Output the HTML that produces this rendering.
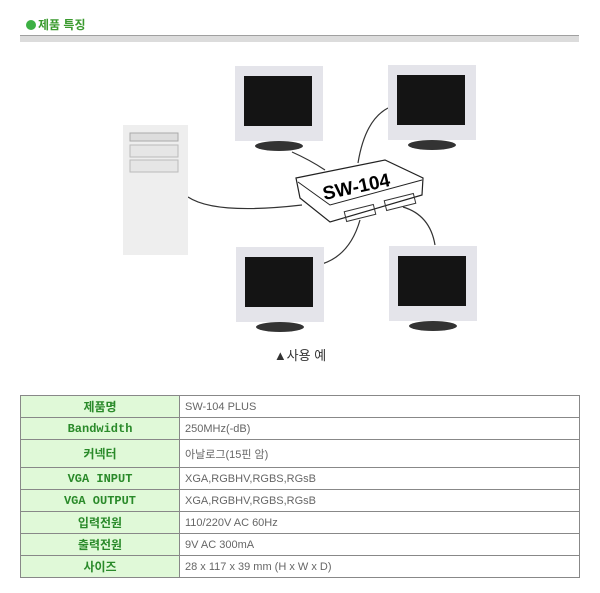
<!DOCTYPE html>
<html><head><meta charset="utf-8"><style>
body{margin:0;width:600px;height:593px;background:#fff;font-family:"Liberation Sans","Noto Sans CJK KR",sans-serif;position:relative;overflow:hidden}
.hd{position:absolute;left:26px;top:16px;font-size:12px;color:#3a9a2e;font-weight:bold}
.dot{display:inline-block;width:10px;height:10px;border-radius:50%;background:#3cb043;margin-right:2px;vertical-align:-1px}
.line{position:absolute;left:20px;top:35px;width:559px;height:1px;background:#a0a0a0}
.band{position:absolute;left:20px;top:36px;width:559px;height:6px;background:#dcdcdc}
table{position:absolute;left:20px;top:395px;width:560px;border-collapse:collapse}
td{border:1px solid #888;height:21px;padding:0;font-size:11px}
td.k{width:158px;background:#e0f9d8;color:#2a8a2a;font-weight:bold;text-align:center;font-size:12px;font-family:"Liberation Mono","Noto Sans CJK KR",monospace}
td.v{color:#666;padding-left:5px}
</style></head><body>
<div class="hd"><span class="dot"></span>제품 특징</div>
<div class="line"></div><div class="band"></div>
<svg style="position:absolute;left:0;top:0" width="600" height="380">
<g fill="none" stroke="#333" stroke-width="1.2">
<path d="M188 197 Q215 215 302 205"/>
<path d="M292 152 Q310 160 325 170"/>
<path d="M388 108 Q365 120 358 163"/>
<path d="M322 264 Q350 255 360 220"/>
<path d="M403 207 Q430 215 435 245"/>
</g>
<rect x="123" y="125" width="65" height="130" fill="#eeeeee"/>
<rect x="130" y="133" width="48" height="8" fill="#ddd" stroke="#aaa"/>
<rect x="130" y="145" width="48" height="12" fill="#e6e6e6" stroke="#bbb"/>
<rect x="130" y="160" width="48" height="12" fill="#e6e6e6" stroke="#bbb"/>
<g id="m">
<rect x="235" y="66" width="88" height="75" fill="#e4e4ea"/>
<rect x="244" y="76" width="68" height="50" fill="#141414"/>
<ellipse cx="279" cy="146" rx="24" ry="5" fill="#333"/>
</g>
<use href="#m" x="153" y="-1"/>
<use href="#m" x="1" y="181"/>
<use href="#m" x="154" y="180"/>
<polygon points="296,178 385,160 423,178 422,195 330,222 300,198" fill="#fff" stroke="#222" stroke-width="1.2"/>
<polyline points="298,182 330,205 422,180" fill="none" stroke="#222"/>
<rect x="345" y="208" width="30" height="10" fill="none" stroke="#333" transform="rotate(-14 360 213)"/>
<rect x="385" y="197" width="30" height="10" fill="none" stroke="#333" transform="rotate(-14 400 202)"/>
<text x="357" y="193" font-family="Liberation Sans" font-weight="bold" font-size="19" text-anchor="middle" transform="rotate(-12 357 190)" fill="#000">SW-104</text>
<text x="300" y="360" font-size="13" text-anchor="middle" fill="#333" font-family="Liberation Sans,Noto Sans CJK KR,sans-serif">▲사용 예</text>
</svg>
<table>
<tr><td class="k">제품명</td><td class="v">SW-104 PLUS</td></tr>
<tr><td class="k">Bandwidth</td><td class="v">250MHz(-dB)</td></tr>
<tr><td class="k" style="height:27px">커넥터</td><td class="v">아날로그(15핀 암)</td></tr>
<tr><td class="k">VGA INPUT</td><td class="v">XGA,RGBHV,RGBS,RGsB</td></tr>
<tr><td class="k">VGA OUTPUT</td><td class="v">XGA,RGBHV,RGBS,RGsB</td></tr>
<tr><td class="k">입력전원</td><td class="v">110/220V AC 60Hz</td></tr>
<tr><td class="k">출력전원</td><td class="v">9V AC 300mA</td></tr>
<tr><td class="k">사이즈</td><td class="v">28 x 117 x 39 mm (H x W x D)</td></tr>
</table>
</body></html>
